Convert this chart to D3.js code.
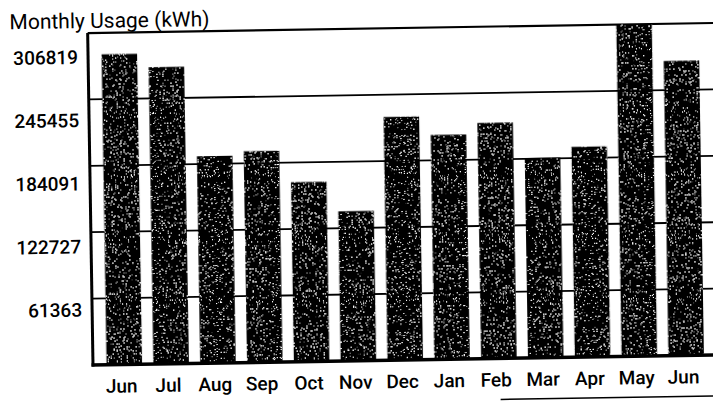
<!DOCTYPE html>
<html>
<head>
<meta charset="utf-8">
<script src="https://cdn.jsdelivr.net/npm/d3@7"></script>
<style>
  body { margin: 0; background: #fff; }
  svg { display: block; font-family: Roboto, "Noto Sans", sans-serif; }
</style>
</head>
<body>
<svg id="chart"></svg>
<script>
// monthly usage
const months = ['Jun', 'Jul', 'Aug', 'Sep', 'Oct', 'Nov', 'Dec', 'Jan', 'Feb', 'Mar', 'Apr', 'May', 'Jun'];
const usage = [286900, 274300, 191300, 195200, 165900, 138300, 224800, 207500, 217900, 184800, 194400, 306819, 272400];
const tickValues = [61363, 122727, 184091, 245455, 306819];
const tickLabels = ['61363', '122727', '184091', '245455', '306819'];

const width = 713, height = 402;
const plotLeft = 93, plotBottom = 365, plotTop = 33;

const svg = d3.select('#chart')
  .attr('width', width)
  .attr('height', height);

// speckle so the bars look like the scanned toner
const defs = svg.append('defs');
const f = defs.append('filter').attr('id', 'speckle')
  .attr('x', 0).attr('y', 0).attr('width', 1).attr('height', 1);
f.append('feTurbulence').attr('type', 'fractalNoise')
  .attr('baseFrequency', 1.3).attr('numOctaves', 1).attr('seed', 7).attr('result', 'n');
f.append('feColorMatrix').attr('in', 'n').attr('type', 'matrix')
  .attr('values', '0 0 0 0 1  0 0 0 0 1  0 0 0 0 1  16 0 0 0 -10.4')
  .attr('result', 'dots');
f.append('feComposite').attr('in', 'dots').attr('in2', 'SourceGraphic')
  .attr('operator', 'in').attr('result', 'd2');
const merge = f.append('feMerge');
merge.append('feMergeNode').attr('in', 'SourceGraphic');
merge.append('feMergeNode').attr('in', 'd2');

// scanned sheet is a little crooked
const g = svg.append('g')
  .attr('transform', `rotate(-0.92, ${plotLeft}, ${plotBottom})`);

const x = d3.scaleBand()
  .domain(d3.range(months.length))
  .range([plotLeft, 717.6])
  .paddingInner(0.242)
  .paddingOuter(0.29);

const y = d3.scaleLinear()
  .domain([0, 306819])
  .range([plotBottom, plotTop]);

// labels sit a bit below their lines on the print
const labelY = d3.scaleLinear()
  .domain([0, 306819])
  .range([373, 57]);

// title
g.append('text')
  .attr('x', 15)
  .attr('y', 28)
  .attr('font-size', 21)
  .attr('fill', '#000')
  .text('Monthly Usage (kWh)');

// grid lines (top one is the frame)
g.selectAll('.grid')
  .data(tickValues)
  .enter()
  .append('line')
  .attr('x1', plotLeft)
  .attr('x2', 730)
  .attr('y1', d => y(d))
  .attr('y2', d => y(d))
  .attr('stroke', '#000')
  .attr('stroke-width', (d, i) => i === tickValues.length - 1 ? 2.2 : 1.8);

// y labels
g.selectAll('.ylab')
  .data(tickValues)
  .enter()
  .append('text')
  .attr('x', 83)
  .attr('y', d => labelY(d))
  .attr('dy', '0.35em')
  .attr('text-anchor', 'end')
  .attr('font-size', 19)
  .attr('font-weight', 500)
  .attr('fill', '#000')
  .text((d, i) => tickLabels[i]);

// bars
g.selectAll('.bar')
  .data(usage)
  .enter()
  .append('rect')
  .attr('x', (d, i) => x(i))
  .attr('y', d => y(d))
  .attr('width', x.bandwidth())
  .attr('height', d => y(0) - y(d))
  .attr('fill', '#050505')
  .attr('filter', 'url(#speckle)');

// axes lines
g.append('line')
  .attr('x1', plotLeft).attr('x2', plotLeft)
  .attr('y1', plotTop).attr('y2', plotBottom + 1.5)
  .attr('stroke', '#000').attr('stroke-width', 3);
g.append('line')
  .attr('x1', plotLeft - 1.5).attr('x2', 730)
  .attr('y1', plotBottom).attr('y2', plotBottom)
  .attr('stroke', '#000').attr('stroke-width', 3.5);

// month labels
g.selectAll('.xlab')
  .data(months)
  .enter()
  .append('text')
  .attr('x', (d, i) => x(i) + x.bandwidth() / 2 - 3)
  .attr('y', 393)
  .attr('text-anchor', 'middle')
  .attr('font-size', 19)
  .attr('font-weight', 500)
  .attr('fill', '#000')
  .text(d => d);

// paper edge at bottom right
g.append('line')
  .attr('x1', 500).attr('x2', 730)
  .attr('y1', 406).attr('y2', 406)
  .attr('stroke', '#000').attr('stroke-width', 1.5);
</script>
</body>
</html>
